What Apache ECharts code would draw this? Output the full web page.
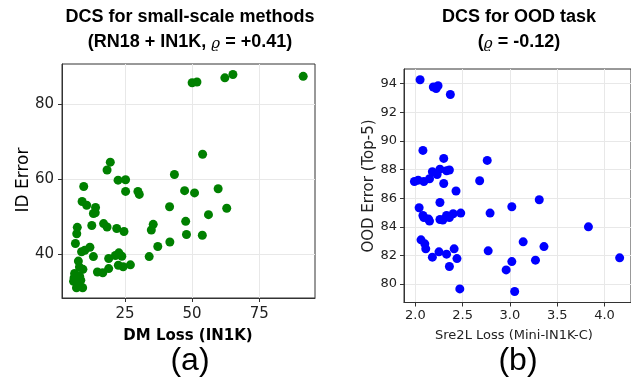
<!DOCTYPE html>
<html><head><meta charset="utf-8">
<script src="https://cdn.jsdelivr.net/npm/echarts@6/dist/echarts.min.js"></script>
<style>html,body{margin:0;padding:0;background:#fff}#c{width:631px;height:383px}</style>
</head><body><div id="c"></div>
<script>
// Panel (a): DM Loss (IN1K) vs ID Error
const dmLoss = [50.0,51.8,62.2,65.2,91.4,53.9,43.4,47.2,50.9,59.7,41.6,62.9,56.1,47.6,47.9,53.8,41.7,37.2,34.0,34.8,35.5,
  18.3,19.5,22.4,25.2,25.2,29.8,30.3,9.6,9.0,10.7,14.0,13.2,13.9,12.6,17.0,18.3,21.9,24.6,7.2,7.0,6.5,8.8,10.0,11.9,13.2,7.6,
  18.9,21.4,22.7,23.8,22.5,24.3,27.0,14.7,16.7,18.9,9.3,8.0,6.2,7.3,8.1,5.8,7.7,8.5,6.9,9.2,6.0];
const idError = [85.7,85.9,87.0,87.9,87.4,66.6,61.2,56.9,56.3,57.4,52.6,52.2,50.5,48.7,45.2,45.0,43.2,42.0,39.3,46.4,47.9,
  62.4,64.5,59.7,59.8,56.7,56.7,55.9,58.0,54.0,53.0,52.4,50.8,51.0,47.6,48.1,47.2,46.8,46.0,47.1,45.4,42.8,40.6,41.0,41.8,39.3,38.1,
  38.8,39.6,40.3,39.4,37.0,36.6,37.1,35.2,35.0,36.1,35.9,36.5,34.8,34.2,34.0,32.7,32.1,33.0,31.0,31.0,33.6];
// Panel (b): Sre2L Loss (Mini-IN1K-C) vs OOD Error (Top-5)
const sre2lLoss = [2.05,2.19,2.22,2.24,2.37,2.08,2.30,2.76,2.18,2.26,2.33,2.36,1.99,2.03,2.09,2.15,2.23,2.30,2.68,2.43,
  2.26,2.04,2.08,2.09,2.14,2.15,2.26,2.29,2.33,2.36,2.40,2.48,2.79,3.02,3.31,3.83,2.06,2.10,2.11,2.18,2.25,2.33,2.41,2.44,
  2.36,2.77,2.47,2.96,3.02,3.14,3.36,3.27,4.16,3.05];
const oodError = [94.28,93.77,93.67,93.86,93.25,89.34,88.78,88.64,87.85,88.03,87.92,87.97,87.17,87.26,87.17,87.36,87.65,87.03,87.22,86.50,
  85.70,85.33,84.79,84.65,84.54,84.40,84.51,84.47,84.79,84.65,84.91,84.96,84.96,85.40,85.89,84.00,83.09,82.81,82.46,81.88,82.25,82.09,82.46,81.78,
  81.23,82.32,79.66,80.99,81.57,82.95,82.62,81.67,81.83,79.48];
const leftXTicks = [25, 50, 75];
const leftYTicks = [40, 60, 80];
const rightXTicks = [2.0, 2.5, 3.0, 3.5, 4.0];
const rightYTicks = [80, 82, 84, 86, 88, 90, 92, 94];

const zip = (a, b) => a.map((v, i) => [v, b[i]]);
const gridCol = '#e8e8e8';
function axis(gridIndex, min, max, ticks, fs, margin, fmt) {
  return {
    type: 'value', gridIndex, min, max,
    axisLine: { show: true, lineStyle: { color: '#333', width: 1 } },
    axisTick: { show: true, length: 4, lineStyle: { color: '#333' }, customValues: ticks },
    axisLabel: { customValues: ticks, fontFamily: 'DejaVu Sans', fontSize: fs, color: '#222', margin,
      formatter: fmt || (v => String(v)) },
    splitLine: { show: true, lineStyle: { color: gridCol, width: 1 } }
  };
}
const chart = echarts.init(document.getElementById('c'), null, { renderer: 'canvas' });
const titleFont = '"Liberation Sans", Arial, sans-serif';
const rhoRich = { r: { fontFamily: 'DejaVu Serif', fontStyle: 'italic', fontSize: 15, fontWeight: 'normal', padding: [4, 0, 0, 0] } };
chart.setOption({
  animation: false,
  backgroundColor: '#fff',
  grid: [
    { left: 62, top: 64, width: 253, height: 234, show: true, borderColor: '#333', borderWidth: 1 },
    { left: 404, top: 69, width: 234, height: 233.5, show: true, borderColor: '#333', borderWidth: 1 }
  ],
  xAxis: [
    axis(0, 1.5, 95.8, leftXTicks, 15, 9),
    axis(1, 1.88, 4.28, rightXTicks, 13, 7, v => v.toFixed(1))
  ],
  yAxis: [
    axis(0, 28.25, 90.7, leftYTicks, 15, 8),
    axis(1, 78.71, 95.03, rightYTicks, 13, 7)
  ],
  series: [
    { type: 'scatter', xAxisIndex: 0, yAxisIndex: 0, data: zip(dmLoss, idError), symbolSize: 9,
      itemStyle: { color: '#008000', opacity: 1 } },
    { type: 'scatter', xAxisIndex: 1, yAxisIndex: 1, data: zip(sre2lLoss, oodError), symbolSize: 9,
      itemStyle: { color: '#0000ff', opacity: 1 } }
  ],
  graphic: [
    { type: 'text', x: 190, y: 17, style: { text: 'DCS for small-scale methods', font: 'bold 18px ' + titleFont, fill: '#000', align: 'center', verticalAlign: 'middle' } },
    { type: 'text', x: 190, y: 42, style: { text: '(RN18 + IN1K, {r|ϱ} = +0.41)', font: 'bold 18px ' + titleFont, fill: '#000', align: 'center', verticalAlign: 'middle', rich: rhoRich } },
    { type: 'text', x: 519, y: 17, style: { text: 'DCS for OOD task', font: 'bold 18px ' + titleFont, fill: '#000', align: 'center', verticalAlign: 'middle' } },
    { type: 'text', x: 519, y: 42, style: { text: '({r|ϱ} = -0.12)', font: 'bold 18px ' + titleFont, fill: '#000', align: 'center', verticalAlign: 'middle', rich: rhoRich } },
    { type: 'text', x: 188, y: 336, style: { text: 'DM Loss (IN1K)', font: 'bold 15px "DejaVu Sans"', fill: '#000', align: 'center', verticalAlign: 'middle' } },
    { type: 'text', x: 514, y: 336, style: { text: 'Sre2L Loss (Mini-IN1K-C)', font: '13px "DejaVu Sans"', fill: '#222', align: 'center', verticalAlign: 'middle' } },
    { type: 'text', x: 24, y: 180, rotation: Math.PI / 2, style: { text: 'ID Error', font: '17px "DejaVu Sans"', fill: '#000', align: 'center', verticalAlign: 'middle' } },
    { type: 'text', x: 369, y: 186, rotation: Math.PI / 2, style: { text: 'OOD Error (Top-5)', font: '15px "DejaVu Sans"', fill: '#222', align: 'center', verticalAlign: 'middle' } },
    { type: 'text', x: 190, y: 361, style: { text: '(a)', font: '32px "Liberation Sans", Arial, sans-serif', fill: '#000', align: 'center', verticalAlign: 'middle' } },
    { type: 'text', x: 518, y: 361, style: { text: '(b)', font: '32px "Liberation Sans", Arial, sans-serif', fill: '#000', align: 'center', verticalAlign: 'middle' } }
  ]
});
</script></body></html>
